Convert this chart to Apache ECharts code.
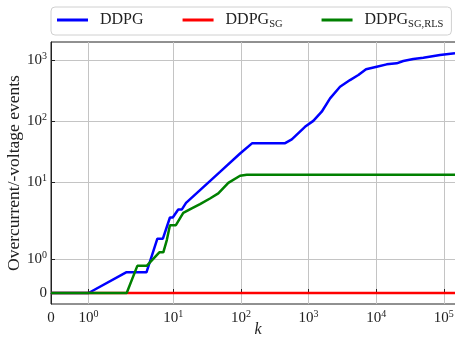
<!DOCTYPE html>
<html>
<head>
<meta charset="utf-8">
<script src="https://cdn.jsdelivr.net/npm/echarts@6/dist/echarts.min.js"></script>
<style>
  html, body { margin: 0; padding: 0; background: #fff; }
  #chart { width: 455px; height: 340px; }
</style>
</head>
<body>
<div id="chart"></div>
<script>
// values (k, events)
const kBlue = [0, 1, 2, 4, 5.8, 7, 8.9, 9.8, 11.8, 13.3, 15.4, 24.8, 49, 97, 147, 450, 565, 885, 1175, 1565, 2080, 2920, 4100, 5450, 7080, 10200, 14300, 20100, 25200, 35400, 49800, 87900, 146600];
const vBlue = [0, 0, 0.61, 0.61, 1.6, 1.6, 2.67, 2.67, 3.6, 3.6, 4.62, 7.5, 14.9, 29.8, 44, 44, 50.7, 81.5, 102, 144, 238, 369, 475, 574, 712, 785, 859, 893, 973, 1050, 1100, 1220, 1300];
const kRed = [0, 146600];
const vRed = [0, 0];
const kGreen = [0, 2.04, 2.93, 4.03, 6.2, 7.1, 8, 8.9, 10.9, 14, 18.7, 24.8, 34.8, 46.2, 65, 97, 122, 146600];
const vGreen = [0, 0, 0.8, 0.8, 1.2, 1.2, 1.56, 2.0, 2.0, 3.17, 3.75, 4.41, 5.47, 6.61, 9.84, 12.9, 13.4, 13.4];

const xTicks = [0, 1, 10, 100, 1000, 10000, 100000];
const yTicks = [0, 1, 10, 100, 1000];

// matplotlib-like symlog, linthresh = 2, linscale = 1 (in decades)
const LT = 2, LS = 1 / (1 - 1 / 10);
function symlog(v) {
  const a = Math.abs(v);
  const t = a <= LT ? a / LT * LS : LS + Math.log10(a / LT);
  return v < 0 ? -t : t;
}

function pairs(ks, vs) {
  return ks.map((k, i) => [symlog(k), symlog(vs[i])]);
}

function tickLabel(list) {
  return function (val) {
    for (let i = 0; i < list.length; i++) {
      if (Math.abs(symlog(list[i]) - val) < 1e-6) {
        return list[i] === 0 ? '{b|0}' : '{b|10}{s|' + Math.round(Math.log10(list[i])) + '}';
      }
    }
    return '';
  };
}

const font = 'Liberation Serif';
const richTick = {
  b: { fontFamily: font, fontSize: 15, color: '#222', lineHeight: 18 },
  s: { fontFamily: font, fontSize: 10, color: '#222', verticalAlign: 'top', lineHeight: 12 }
};

const legendNames = {
  'DDPG': '{m|DDPG}',
  'DDPG_SG': '{m|DDPG}{sub|SG}',
  'DDPG_SG,RLS': '{m|DDPG}{sub|SG,RLS}'
};

const chart = echarts.init(document.getElementById('chart'), null, { renderer: 'canvas' });

chart.setOption({
  animation: false,
  grid: {
    left: 51, top: 42, right: -10, bottom: 36,
    outerBoundsMode: 'none', containLabel: false,
    show: true, borderColor: '#222', borderWidth: 1
  },
  legend: {
    left: 51, top: 7,
    padding: [5, 8, 5, 6],
    itemGap: 39,
    itemWidth: 31, itemHeight: 3,
    icon: 'rect',
    backgroundColor: '#fff',
    borderColor: '#d0d0d0', borderWidth: 1, borderRadius: 4,
    data: ['DDPG', 'DDPG_SG', 'DDPG_SG,RLS'],
    formatter: name => legendNames[name],
    textStyle: {
      padding: [0, 0, 0, 7],
      rich: {
        m: { fontFamily: font, fontSize: 16, color: '#222', lineHeight: 20 },
        sub: { fontFamily: font, fontSize: 10.5, color: '#222', verticalAlign: 'bottom', lineHeight: 14 }
      }
    }
  },
  xAxis: {
    type: 'value',
    min: 0, max: 6.124,
    name: 'k',
    nameLocation: 'middle',
    nameGap: 18,
    nameMoveOverlap: false,
    nameTextStyle: { fontFamily: font, fontStyle: 'italic', fontSize: 16, color: '#222' },
    axisLine: { show: true, lineStyle: { color: '#222', width: 1 } },
    axisTick: { show: true, inside: true, length: 4, lineStyle: { color: '#222' }, customValues: xTicks.map(symlog) },
    axisLabel: { customValues: xTicks.map(symlog), formatter: tickLabel(xTicks), rich: richTick, margin: 5 },
    splitLine: { show: true, lineStyle: { color: '#c4c4c4', width: 1 } }
  },
  yAxis: {
    type: 'value',
    min: -0.18, max: 4.11,
    name: 'Overcurrent/-voltage events',
    nameLocation: 'middle',
    nameGap: 28,
    nameMoveOverlap: false,
    nameTextStyle: { fontFamily: font, fontSize: 17.5, color: '#222' },
    axisLine: { show: true, lineStyle: { color: '#222', width: 1 } },
    axisTick: { show: true, inside: true, length: 4, lineStyle: { color: '#222' }, customValues: yTicks.map(symlog) },
    axisLabel: { customValues: yTicks.map(symlog), formatter: tickLabel(yTicks), rich: richTick, margin: 4 },
    splitLine: { show: true, lineStyle: { color: '#c4c4c4', width: 1 } }
  },
  series: [
    {
      name: 'DDPG', type: 'line', showSymbol: false,
      data: pairs(kBlue, vBlue),
      lineStyle: { color: '#0000ff', width: 2.5 }, itemStyle: { color: '#0000ff' }
    },
    {
      name: 'DDPG_SG', type: 'line', showSymbol: false,
      data: pairs(kRed, vRed),
      lineStyle: { color: '#ff0000', width: 2.5 }, itemStyle: { color: '#ff0000' }
    },
    {
      name: 'DDPG_SG,RLS', type: 'line', showSymbol: false,
      data: pairs(kGreen, vGreen),
      lineStyle: { color: '#008000', width: 2.5 }, itemStyle: { color: '#008000' }
    }
  ]
});
</script>
</body>
</html>
